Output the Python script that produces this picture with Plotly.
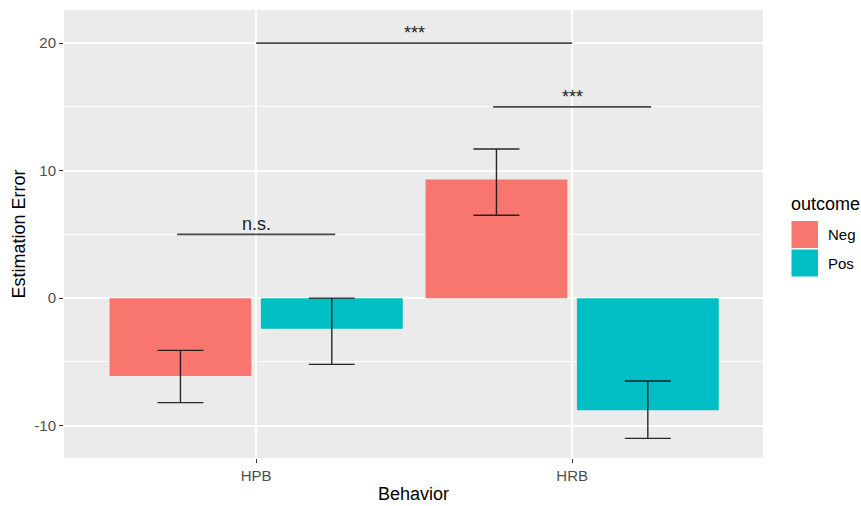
import plotly.graph_objects as go

# ---- data ----
behaviors = ["HPB", "HRB"]
outcomes = ["Neg", "Pos"]
neg_mean = [-6.1, 9.3]
neg_lower = [-8.2, 6.5]
neg_upper = [-4.1, 11.7]
pos_mean = [-2.4, -8.8]
pos_lower = [-5.2, -11.0]
pos_upper = [0.0, -6.5]

# significance brackets (x in category-index units)
sig_labels = ["***", "***", "n.s."]
sig_xmin = [0.0, 0.75, -0.25]
sig_xmax = [1.0, 1.25, 0.25]
sig_y = [20, 15, 5]

colors = {"Neg": "#F8766D", "Pos": "#00BFC4"}
FONT = "Liberation Sans, Arial, sans-serif"

W, H = 861, 506
ML, MR, MT, MB = 64, 98, 10, 48
PW, PH = W - ML - MR, H - MT - MB


def px_x(x):
    return (x - ML) / PW


def px_y(y):
    return (H - MB - y) / PH


fig = go.Figure()
for name, mean, lo, hi in [("Neg", neg_mean, neg_lower, neg_upper),
                           ("Pos", pos_mean, pos_lower, pos_upper)]:
    fig.add_trace(go.Bar(
        x=behaviors, y=mean, name=name,
        marker=dict(color=colors[name], line=dict(width=0)),
        error_y=dict(type="data", symmetric=False,
                     array=[h - m for h, m in zip(hi, mean)],
                     arrayminus=[m - l for m, l in zip(mean, lo)],
                     color="rgba(20,20,20,0.9)", thickness=1.4, width=23),
        showlegend=False,
    ))

shapes = []
annotations = []
for lab, x0, x1, y in zip(sig_labels, sig_xmin, sig_xmax, sig_y):
    shapes.append(dict(type="line", xref="x", yref="y", x0=x0, x1=x1, y0=y, y1=y,
                       line=dict(color="#4a4a4a", width=1.6)))
    annotations.append(dict(x=(x0 + x1) / 2, y=y, xref="x", yref="y", text=lab,
                            showarrow=False, yanchor="bottom", yshift=-2,
                            font=dict(family=FONT, size=18, color="#222222")))

# manual ggplot-style legend
annotations.append(dict(x=px_x(789), y=px_y(204), xref="paper", yref="paper",
                        text="outcome", showarrow=False, xanchor="left",
                        yanchor="middle", font=dict(family=FONT, size=18, color="#000000")))
key_tops = [221, 249.5]
for name, top in zip(outcomes, key_tops):
    shapes.append(dict(type="rect", xref="paper", yref="paper",
                       x0=px_x(791.5), x1=px_x(818), y0=px_y(top), y1=px_y(top + 27),
                       fillcolor=colors[name], line=dict(width=0)))
    annotations.append(dict(x=px_x(826), y=px_y(top + 13.5), xref="paper", yref="paper",
                            text=name, showarrow=False, xanchor="left", yanchor="middle",
                            font=dict(family=FONT, size=15, color="#000000")))

fig.update_layout(
    width=W, height=H,
    margin=dict(l=ML, r=MR, t=MT, b=MB),
    paper_bgcolor="white", plot_bgcolor="#EBEBEB",
    barmode="group", bargap=0.042, bargroupgap=0.063,
    shapes=shapes, annotations=annotations,
    font=dict(family=FONT),
    showlegend=False,
)
fig.update_xaxes(
    type="category", range=[-0.608, 1.604],
    showgrid=True, gridcolor="white", gridwidth=1.6,
    ticks="outside", ticklen=4, tickwidth=1, tickcolor="#333333",
    tickfont=dict(family=FONT, size=15, color="#4D4D4D"),
    title=dict(text="Behavior", font=dict(family=FONT, size=18, color="#000000"), standoff=4),
    showline=False, zeroline=False, automargin=False,
)
fig.update_yaxes(
    range=[-12.54, 22.6], tickvals=[-10, 0, 10, 20], ticktext=["-10", "0", "10", "20"],
    showgrid=True, gridcolor="white", gridwidth=1.6,
    minor=dict(dtick=5, tick0=0, showgrid=True, gridcolor="white", gridwidth=0.8, ticks=""),
    ticks="outside", ticklen=4, tickwidth=1, tickcolor="#333333",
    tickfont=dict(family=FONT, size=15, color="#4D4D4D"),
    title=dict(text="Estimation Error", font=dict(family=FONT, size=18, color="#000000"), standoff=4),
    showline=False, zeroline=False, automargin=False,
)

fig.write_html("out.html", config={"displayModeBar": False},
               post_script="document.body.style.margin='0';document.body.style.overflow='hidden';")
